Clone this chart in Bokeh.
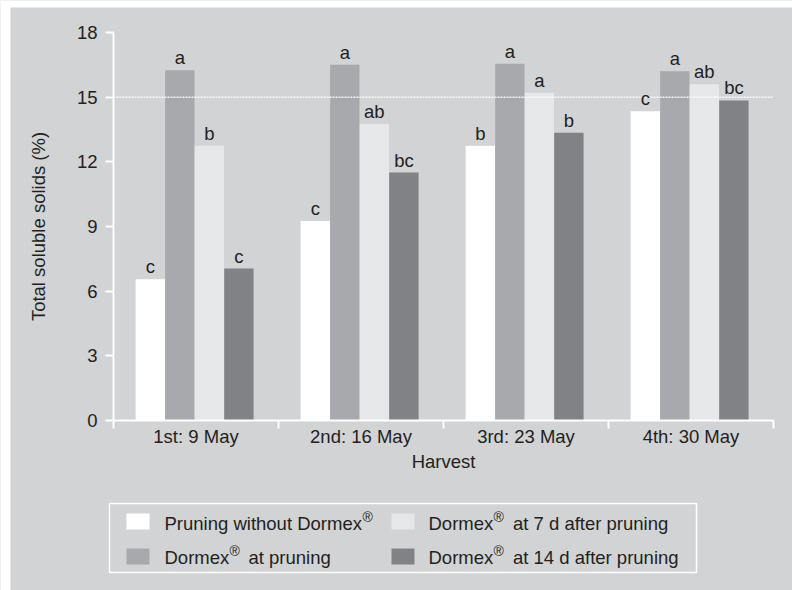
import math
from bokeh.plotting import figure
from bokeh.models import (Range1d, FixedTicker, LinearAxis, ColumnDataSource, LabelSet)
from bokeh.embed import file_html
from bokeh.resources import INLINE
from bokeh.core.properties import value

# ---------------- data ----------------
harvests = ["1st: 9 May", "2nd: 16 May", "3rd: 23 May", "4th: 30 May"]
pruning_no_dormex = [6.55, 9.25, 12.75, 14.35]
dormex_at_pruning = [16.25, 16.5, 16.55, 16.2]
dormex_7d = [12.75, 13.75, 15.2, 15.6]
dormex_14d = [7.05, 11.5, 13.35, 14.85]
letters_no_dormex = ["c", "c", "b", "c"]
letters_at_pruning = ["a", "a", "a", "a"]
letters_7d = ["b", "ab", "a", "ab"]
letters_14d = ["c", "bc", "b", "bc"]
y_ticks = [0, 3, 6, 9, 12, 15, 18]
y_max = 18
reference_level = 15

# ---------------- style / geometry ----------------
BG = "#d1d3d4"
TXT = "#231f20"
FONT = "Liberation Sans"
FS = "18.5px"
colors = ["#ffffff", "#a7a9ac", "#e6e7e8", "#808285"]
bar_w = 0.178
offsets = [-0.277, -0.098, 0.081, 0.260]

W, H = 792, 590
X0, X1 = 113, 773      # pixel columns of the plotting area (category axis 0..n)
Y0, Y1 = 420, 32       # pixel rows of y = 0 and y = y_max
n = len(harvests)
sx = (X1 - X0) / n
sy = (Y0 - Y1) / y_max


def px(x):
    return (x - X0) / sx


def py(y):
    return (Y0 - y) / sy


p = figure(width=W, height=H, output_backend="svg", toolbar_location=None,
           x_range=Range1d(px(0), px(W)), y_range=Range1d(py(H), py(0)),
           x_axis_location=None, y_axis_location=None,
           min_border_left=0, min_border_right=0, min_border_top=0,
           min_border_bottom=0)
p.background_fill_color = BG
p.border_fill_color = BG
p.outline_line_color = None
for g in p.grid:
    g.visible = False

# white page margin at top and left, as in the reference
p.quad(left=[px(0), px(0)], right=[px(W), px(10)], top=[py(0), py(0)],
       bottom=[py(7), py(H)], fill_color="white", line_color=None)

series = [pruning_no_dormex, dormex_at_pruning, dormex_7d, dormex_14d]
letters = [letters_no_dormex, letters_at_pruning, letters_7d, letters_14d]
for vals, lets, col, off in zip(series, letters, colors, offsets):
    src = ColumnDataSource(dict(x=[i + 0.5 + off for i in range(len(vals))],
                                top=vals, lab=lets))
    p.vbar(x="x", top="top", width=bar_w, bottom=0, source=src,
           fill_color=col, line_color=None)
    p.add_layout(LabelSet(x="x", y="top", text="lab", source=src,
                          text_align="center", text_baseline="alphabetic",
                          y_offset=6, text_font=value(FONT),
                          text_font_size=FS, text_color=TXT))

# dotted reference line at 15 across the plotting area
p.line(x=[0, n], y=[reference_level, reference_level], line_color="white",
       line_alpha=0.85, line_dash="2 1", line_width=1.5)

# y axis
yax = LinearAxis(ticker=FixedTicker(ticks=y_ticks), fixed_location=0, bounds=(0, y_max))
yax.axis_line_color = "white"
yax.axis_line_width = 2
yax.major_tick_line_color = "white"
yax.major_tick_line_width = 2
yax.major_tick_out = 8
yax.major_tick_in = 0
yax.minor_tick_line_color = None
yax.major_label_standoff = 8
yax.major_label_text_font = FONT
yax.major_label_text_font_size = FS
yax.major_label_text_color = TXT
p.add_layout(yax, "left")

# x axis: labels at category centres, tick marks at category boundaries
xax = LinearAxis(ticker=FixedTicker(ticks=[i + 0.5 for i in range(n)],
                                    minor_ticks=list(range(n + 1))),
                 fixed_location=0, bounds=(0, n))
xax.major_label_overrides = {i + 0.5: h for i, h in enumerate(harvests)}
xax.axis_line_color = "white"
xax.axis_line_width = 2
xax.major_tick_line_color = None
xax.major_tick_out = 0
xax.major_tick_in = 0
xax.minor_tick_line_color = "white"
xax.minor_tick_line_width = 2
xax.minor_tick_out = 8
xax.minor_tick_in = 0
xax.major_label_standoff = -3
xax.major_label_text_font = FONT
xax.major_label_text_font_size = FS
xax.major_label_text_color = TXT
p.add_layout(xax, "below")


def add_texts(items, size=FS, align="left", baseline="alphabetic", angle=0.0):
    src = ColumnDataSource(dict(x=[px(a) for a, b, c in items],
                                y=[py(b) for a, b, c in items],
                                t=[c for a, b, c in items]))
    p.add_layout(LabelSet(x="x", y="y", text="t", source=src, angle=angle,
                          text_font=value(FONT), text_font_size=size,
                          text_color=TXT, text_align=align,
                          text_baseline=baseline))


# axis titles
add_texts([(443, 467, "Harvest")], align="center")
add_texts([(38, 226, "Total soluble solids (%)")], align="center",
          baseline="middle", angle=math.pi / 2)

# ---------------- legend ----------------
p.quad(left=[px(109)], right=[px(696)], top=[py(503)], bottom=[py(572)],
       fill_color=None, line_color="white", line_width=1.5)
sw_left = [126, 126, 391, 391]
sw_top = [513, 548, 513, 548]
p.quad(left=[px(v) for v in sw_left], right=[px(v + 23) for v in sw_left],
       top=[py(v) for v in sw_top], bottom=[py(v + 16) for v in sw_top],
       fill_color=colors, line_color=None)

add_texts([(164, 529, "Pruning without Dormex"),
           (164, 563, "Dormex"), (248, 563, "at pruning"),
           (428, 529, "Dormex"), (512.5, 529, "at 7 d after pruning"),
           (428, 563, "Dormex"), (512.5, 563, "at 14 d after pruning")])
add_texts([(362, 521, "®"), (229, 555, "®"), (493, 521, "®"), (493, 555, "®")],
          size="14px")

open("out.html", "w").write(file_html(p, INLINE))
